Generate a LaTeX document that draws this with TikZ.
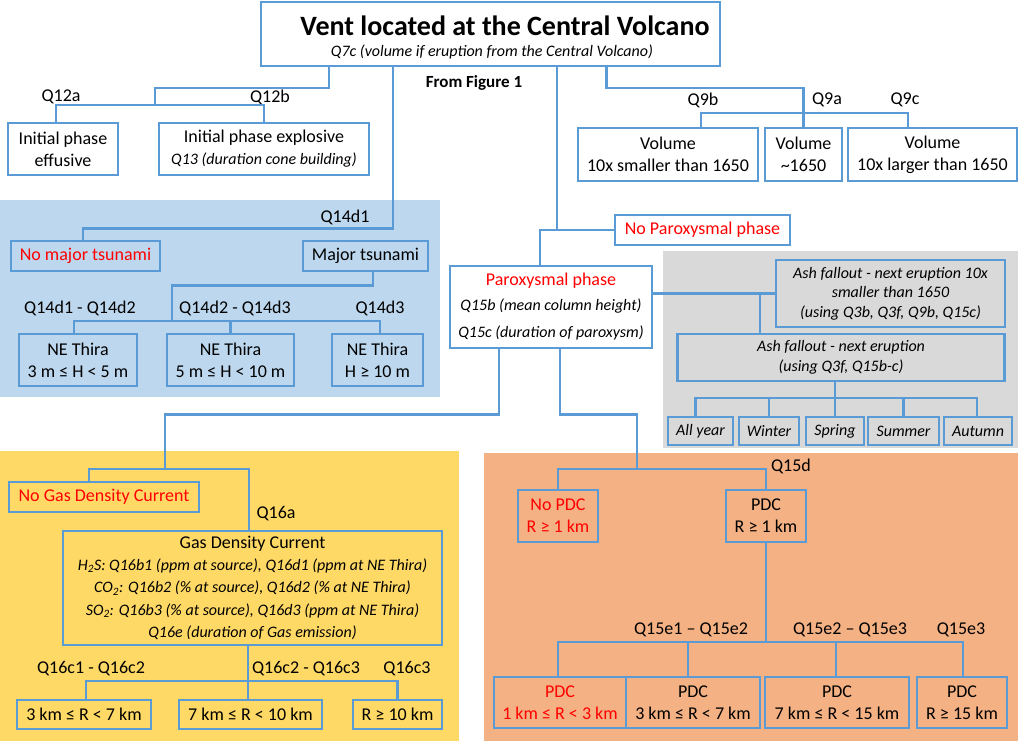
\documentclass[tikz,border=0pt]{standalone}
\usepackage{fontspec}
\setmainfont{Carlito}
\definecolor{lineblue}{RGB}{91,155,213}
\definecolor{tsublue}{RGB}{189,215,238}
\definecolor{ashgrey}{RGB}{217,217,217}
\definecolor{gasyellow}{RGB}{255,217,102}
\definecolor{pdcorange}{RGB}{244,177,131}
\definecolor{nored}{RGB}{255,0,0}

\begin{document}
\begin{tikzpicture}[x=1pt,y=-1pt,
    box/.style={draw=lineblue,line width=2.5pt,inner sep=0pt,align=center,
      font=\fontsize{18}{22}\selectfont},
    boxsize/.style 2 args={minimum width=#1,minimum height=#2},
    note/.style={font=\fontsize{16}{19.5}\selectfont\itshape},
    link/.style={draw=lineblue,line width=2.5pt},
    qlab/.style={inner sep=0pt,font=\fontsize{18}{20}\selectfont}]

    \useasboundingbox (0,0) rectangle (1024,741);

    % coloured areas
    \fill[tsublue] (0,200) rectangle (440,397);
    \fill[ashgrey] (663,251) rectangle (1018,448);
    \fill[gasyellow] (0,451) rectangle (459,741);
    \fill[pdcorange] (484,453) rectangle (1018,741);

    % top
    \node[box,boxsize={459}{64}] (vent) at (490.5,34) {};
    \node[font=\fontsize{28}{30}\selectfont\bfseries] (title) at (505,26)
        {Vent located at the Central Volcano};
    \node[font=\fontsize{16}{18}\selectfont\itshape] (sub) at (492,52)
        {Q7c (volume if eruption from the Central Volcano)};
    \node[font=\fontsize{17}{20}\selectfont\bfseries] (fig) at (474,83) {From Figure 1};

    % initial phase
    \node[box,boxsize={110}{52}] (effusive) at (63,149) {Initial phase\\effusive};
    \node[box,boxsize={210}{52}] (explosive) at (264,149)
        {Initial phase explosive\\\fontsize{16}{20}\selectfont\itshape Q13 (duration cone building)};
    \node[qlab] (q12a) at (61,97) {Q12a};
    \node[qlab] (q12b) at (270,97) {Q12b};
    \coordinate (j12) at (155,105);
    \draw[link] ([xshift=-161.5]vent.south) -- ++(0,21) -| (j12);
    \draw[link] ([xshift=-7]effusive.north) |- (j12) -| (explosive.north);

    % volume
    \node[box,boxsize={180}{53}] (vol1) at (668,154.5) {Volume\\10x smaller than 1650};
    \node[box,boxsize={77}{53}] (vol2) at (803.5,154.5) {Volume\\\textasciitilde1650};
    \node[box,boxsize={169}{53}] (vol3) at (932.5,154.5) {Volume\\10x larger than 1650};
    \node[qlab] (q9b) at (703,100) {Q9b};
    \node[qlab] (q9a) at (827,100) {Q9a};
    \node[qlab] (q9c) at (905,100) {Q9c};
    \coordinate (j9) at (804,113);
    \draw[link] ([xshift=116]vent.south) -- ++(0,21) -| (vol2.north);
    \draw[link] ([xshift=33]vol1.north) |- (j9) -| ([xshift=-24.5]vol3.north);

    % tsunami
    \node[box,boxsize={149}{30},text=nored] (nomajor) at (85.5,256) {No major tsunami};
    \node[box,boxsize={125}{30}] (major) at (365.5,256) {Major tsunami};
    \node[qlab] (q14d1) at (345,217) {Q14d1};
    \draw[link] ([xshift=-97.5]vent.south) -- ++(0,161) -| ([xshift=-2.5]nomajor.north);
    \node[box,boxsize={118}{52}] (thira1) at (78,360) {NE Thira\\3 m ≤ H < 5 m};
    \node[box,boxsize={127}{52}] (thira2) at (230.5,360) {NE Thira\\5 m ≤ H < 10 m};
    \node[box,boxsize={91}{52}] (thira3) at (377.5,360) {NE Thira\\H ≥ 10 m};
    \node[qlab] (q14a) at (80,308) {Q14d1 - Q14d2};
    \node[qlab] (q14b) at (235,308) {Q14d2 - Q14d3};
    \node[qlab] (q14c) at (380,308) {Q14d3};
    \coordinate (j14) at (172,321);
    \draw[link] ([xshift=7.5]major.south) -- ++(0,13) -| (j14);
    \draw[link] ([xshift=-4]thira1.north) |- (j14) -| ([xshift=2.5]thira3.north);
    \draw[link] (j14 -| thira2.north) -- (thira2.north);

    % paroxysm
    \node[box,boxsize={175}{30},text=nored] (noparox) at (702.5,230) {No Paroxysmal phase};
    \node[box,boxsize={202}{82},font=\fontsize{16}{27.5}\selectfont\itshape] (parox) at (551,307)
        {\fontsize{18}{22}\selectfont\upshape\textcolor{nored}{Paroxysmal phase}\\[-3pt]
         Q15b (mean column height)\\Q15c (duration of paroxysm)};
    \draw[link] ([xshift=66.5]vent.south) |- (noparox.west);
    \draw[link] ([xshift=-11]parox.north) |- (noparox.west);

    % ash fallout
    \node[box,note,boxsize={229}{67}] (ash1) at (890.5,293.5)
        {Ash fallout - next eruption 10x\\smaller than 1650\\(using Q3b, Q3f, Q9b, Q15c)};
    \node[box,note,boxsize={327}{47}] (ash2) at (841,357.5)
        {Ash fallout - next eruption\\(using Q3f, Q15b-c)};
    \draw[link] (ash1.west -| parox.east) -- (ash1.west);
    \draw[link] ([xshift=-81]ash2.north) |- (ash1.west);
    \node[box,note,boxsize={65}{28}] (allyear) at (700.5,431) {All year};
    \node[box,note,boxsize={60}{28}] (winter) at (769,431) {Winter};
    \node[box,note,boxsize={58}{28}] (spring) at (835,431) {Spring};
    \node[box,note,boxsize={71}{28}] (summer) at (903.5,431) {Summer};
    \node[box,note,boxsize={68}{28}] (autumn) at (978,431) {Autumn};
    \coordinate (js) at (835,398);
    \draw[link] (ash2.south -| js) -- (js);
    \draw[link] ([xshift=-5]allyear.north) |- (js) -| ([xshift=-1]autumn.north);
    \foreach \s in {winter,spring,summer}
        \draw[link] (js -| \s.north) -- (\s.north);

    % gas density current
    \node[box,boxsize={190}{30},text=nored] (nogas) at (104,497) {No Gas Density Current};
    \node[box,boxsize={379}{114},font=\fontsize{16}{22.5}\selectfont\itshape] (gas) at (252.5,588)
        {\fontsize{18}{22}\selectfont\upshape Gas Density Current\\[-1pt]
         H\textsubscript{2}S: Q16b1 (ppm at source), Q16d1 (ppm at NE Thira)\\
         CO\textsubscript{2}: Q16b2 (\% at source), Q16d2 (\% at NE Thira)\\
         SO\textsubscript{2}: Q16b3 (\% at source), Q16d3 (ppm at NE Thira)\\
         Q16e (duration of Gas emission)};
    \node[qlab] (q16a) at (276,514) {Q16a};
    \coordinate (jg) at (165,469);
    \draw[link] ([xshift=-52]parox.south) -- ++(0,65) -| (jg);
    \draw[link] ([xshift=-15]nogas.north) |- (jg) -| ([xshift=-3.5]gas.north);
    \node[box,boxsize={134}{29}] (r1) at (84,714.5) {3 km ≤ R < 7 km};
    \node[box,boxsize={143}{29}] (r2) at (250.5,714.5) {7 km ≤ R < 10 km};
    \node[box,boxsize={89}{29}] (r3) at (397.5,714.5) {R ≥ 10 km};
    \node[qlab] (q16b) at (91,669) {Q16c1 - Q16c2};
    \node[qlab] (q16c) at (306,669) {Q16c2 - Q16c3};
    \node[qlab] (q16d) at (407,669) {Q16c3};
    \coordinate (jr) at (248,681);
    \draw[link] ([xshift=-4.5]gas.south) -- (jr);
    \draw[link] ([xshift=2]r1.north) |- (jr) -| (r3.north);
    \draw[link] (jr) -- (jr |- r2.north);

    % pyroclastic density current
    \node[box,boxsize={80}{52},text=nored] (nopdc) at (558,516) {No PDC\\R ≥ 1 km};
    \node[box,boxsize={80}{52}] (pdc) at (766,516) {PDC\\R ≥ 1 km};
    \node[qlab] (q15d) at (791,466) {Q15d};
    \coordinate (jd) at (637,469);
    \draw[link] ([xshift=9]parox.south) -- ++(0,65) -| (jd);
    \draw[link] (nopdc.north) |- (jd) -| (pdc.north);
    \node[box,boxsize={132}{51},text=nored] (p1) at (560,702.5) {PDC\\1 km ≤ R < 3 km};
    \node[box,boxsize={134}{51}] (p2) at (693,702.5) {PDC\\3 km ≤ R < 7 km};
    \node[box,boxsize={144}{51}] (p3) at (837,702.5) {PDC\\7 km ≤ R < 15 km};
    \node[box,boxsize={90}{51}] (p4) at (962,702.5) {PDC\\R ≥ 15 km};
    \node[qlab] (q15a) at (691,630) {Q15e1 – Q15e2};
    \node[qlab] (q15b) at (850,630) {Q15e2 – Q15e3};
    \node[qlab] (q15c) at (961,630) {Q15e3};
    \coordinate (je) at (766,642);
    \draw[link] (pdc.south) -- (je);
    \draw[link] ([xshift=-2]p1.north) |- (je) -| ([xshift=1]p4.north);
    \draw[link] ([xshift=-5]p2.north) |- (je);
    \draw[link] ([xshift=-1]p3.north) |- (je);
\end{tikzpicture}
\end{document}
